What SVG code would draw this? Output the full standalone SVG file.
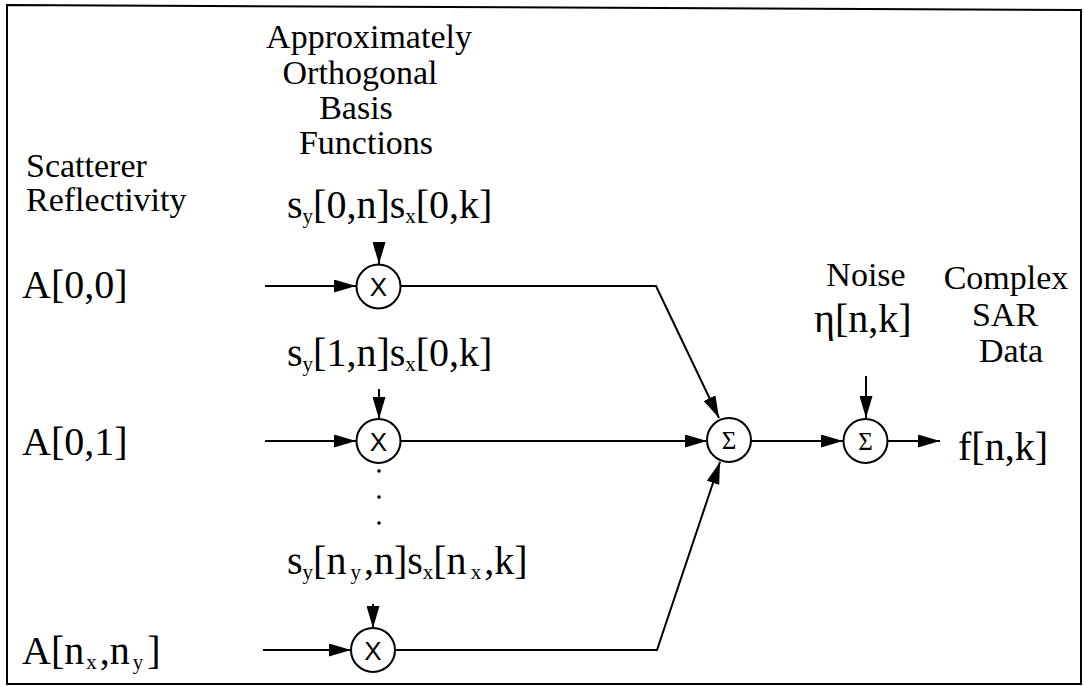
<svg xmlns="http://www.w3.org/2000/svg" width="1084" height="687" viewBox="0 0 1084 687">
<style>
.t{font-family:'Liberation Serif','DejaVu Serif',serif;fill:#000}
.big{font-size:40px}
.hdr{font-size:34px;text-anchor:middle}
.lh{font-size:34px}
.sub{font-size:21px}
.op{font-family:'Liberation Sans','DejaVu Sans',sans-serif;font-size:26px;text-anchor:middle;fill:#000}
.sig{font-size:25px;text-anchor:middle}
.node{fill:#fff;stroke:#000;stroke-width:2}
.wire{fill:none;stroke:#000;stroke-width:2;marker-end:url(#ah)}
</style>
<defs>
<marker id="ah" markerUnits="userSpaceOnUse" markerWidth="22" markerHeight="13" refX="22" refY="6.5" orient="auto">
<path d="M0,0 L22,6.5 L0,13 z" fill="#000"/>
</marker>
</defs>
<rect width="1084" height="687" fill="#fff"/>
<path d="M7,5 L1081,10 L1081,684 L7,684 Z" fill="none" stroke="#000" stroke-width="2"/>

<g id="headers" font-family="Liberation Serif, DejaVu Serif, serif">
<text class="t hdr" x="369" y="48">Approximately</text>
<text class="t hdr" x="360" y="84">Orthogonal</text>
<text class="t hdr" x="356" y="119">Basis</text>
<text class="t hdr" x="366" y="154">Functions</text>
<text class="t lh" x="26" y="177">Scatterer</text>
<text class="t lh" x="26" y="211">Reflectivity</text>
<text class="t hdr" x="866" y="286">Noise</text>
<text class="t hdr" x="1006" y="289">Complex</text>
<text class="t hdr" x="1005" y="326">SAR</text>
<text class="t hdr" x="1011" y="362">Data</text>
</g>

<g id="inputs" font-family="Liberation Serif, DejaVu Serif, serif">
<text class="t big" x="22" y="298">A[0,0]</text>
<text class="t big" x="22" y="455">A[0,1]</text>
<text class="t big" x="22" y="664">A[n<tspan class="sub" dx="2" dy="5">x</tspan><tspan dx="3" dy="-5">,n</tspan><tspan class="sub" dx="3" dy="5">y</tspan><tspan dx="4" dy="-5">]</tspan></text>
</g>

<g id="basis-labels" font-family="Liberation Serif, DejaVu Serif, serif">
<text class="t big" x="287" y="218">s<tspan class="sub" dy="5">y</tspan><tspan dy="-5">[0,n]s</tspan><tspan class="sub" dy="5">x</tspan><tspan dy="-5">[0,k]</tspan></text>
<text class="t big" x="287" y="366">s<tspan class="sub" dy="5">y</tspan><tspan dy="-5">[1,n]s</tspan><tspan class="sub" dy="5">x</tspan><tspan dy="-5">[0,k]</tspan></text>
<text class="t big" x="287" y="574">s<tspan class="sub" dy="5">y</tspan><tspan dy="-5">[n</tspan><tspan class="sub" dx="4" dy="5">y</tspan><tspan dx="3" dy="-5">,n]s</tspan><tspan class="sub" dy="5">x</tspan><tspan dy="-5">[n</tspan><tspan class="sub" dx="4" dy="5">x</tspan><tspan dx="3" dy="-5">,k]</tspan></text>
<text class="t big" x="814" y="332">η[n,k]</text>
<text class="t big" x="958" y="460">f[n,k]</text>
</g>

<g id="dots" fill="#000">
<circle cx="379" cy="471" r="1.8"/>
<circle cx="379" cy="497" r="1.8"/>
<circle cx="379" cy="523" r="1.8"/>
</g>

<g id="connectors">
<line class="wire" x1="265" y1="286" x2="356" y2="286"/>
<line class="wire" x1="265" y1="441" x2="356" y2="441"/>
<line class="wire" x1="263" y1="650" x2="351" y2="650"/>
<line class="wire" x1="379" y1="242" x2="379" y2="264"/>
<line class="wire" x1="379" y1="389" x2="379" y2="419"/>
<line class="wire" x1="373" y1="604" x2="373" y2="628"/>
<polyline class="wire" points="401,286 656,286 719,418"/>
<line class="wire" x1="401" y1="441" x2="707" y2="441"/>
<polyline class="wire" points="396,650 657,650 720,462"/>
<line class="wire" x1="751" y1="441" x2="843" y2="441"/>
<line class="wire" x1="866" y1="376" x2="866" y2="418"/>
<line class="wire" x1="888" y1="441" x2="940" y2="441"/>
</g>

<g id="mult1"><circle class="node" cx="378.5" cy="286.5" r="22"/><text class="op" x="378.5" y="296">X</text></g>
<g id="mult2"><circle class="node" cx="378.5" cy="441" r="22"/><text class="op" x="378.5" y="450.5">X</text></g>
<g id="mult3"><circle class="node" cx="373" cy="650" r="22"/><text class="op" x="373" y="659.5">X</text></g>
<g id="sum1" font-family="Liberation Serif, DejaVu Serif, serif"><circle class="node" cx="729" cy="440" r="22"/><text class="t sig" x="729" y="449">Σ</text></g>
<g id="sum2" font-family="Liberation Serif, DejaVu Serif, serif"><circle class="node" cx="865.5" cy="441" r="22"/><text class="t sig" x="865.5" y="450">Σ</text></g>
</svg>
